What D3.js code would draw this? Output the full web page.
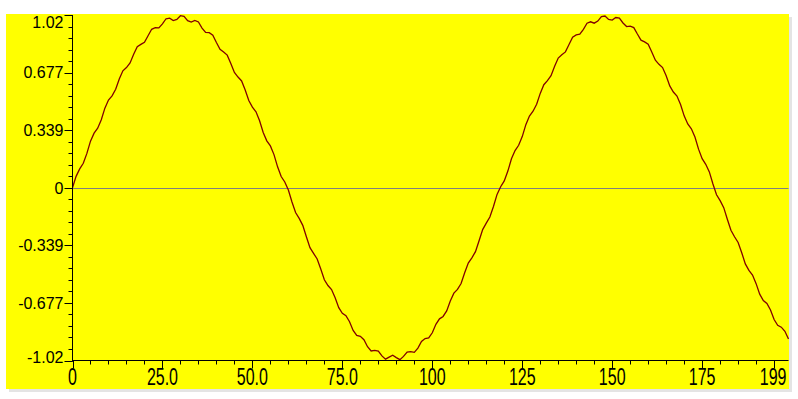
<!DOCTYPE html>
<html>
<head>
<meta charset="utf-8">
<script src="https://cdn.jsdelivr.net/npm/d3@7"></script>
<style>
  body { margin: 0; background: #ffffff; }
  text { font-family: "Liberation Sans", Arial, sans-serif; fill: #000; }
</style>
</head>
<body>
<div id="chart"></div>
<script>
// signal samples, one per index 0..199
var signalValues = [
  0.000, 0.067, 0.111, 0.144, 0.202, 0.274, 0.321, 0.350, 0.400, 0.468,
  0.516, 0.540, 0.579, 0.640, 0.688, 0.707, 0.734, 0.785, 0.829, 0.843,
  0.856, 0.894, 0.932, 0.941, 0.940, 0.964, 0.994, 0.997, 0.983, 0.990,
  1.012, 1.008, 0.983, 0.974, 0.984, 0.975, 0.939, 0.914, 0.912, 0.897,
  0.854, 0.814, 0.799, 0.780, 0.731, 0.678, 0.651, 0.628, 0.575, 0.513,
  0.474, 0.447, 0.394, 0.325, 0.276, 0.246, 0.195, 0.123, 0.066, 0.034,
  -0.013, -0.084, -0.146, -0.180, -0.221, -0.288, -0.352, -0.386, -0.419, -0.478,
  -0.541, -0.575, -0.599, -0.647, -0.705, -0.738, -0.753, -0.788, -0.839, -0.868,
  -0.874, -0.894, -0.935, -0.960, -0.956, -0.961, -0.989, -1.008, -0.996, -0.985,
  -0.999, -1.011, -0.992, -0.966, -0.964, -0.968, -0.943, -0.904, -0.887, -0.883,
  -0.853, -0.803, -0.771, -0.757, -0.724, -0.666, -0.620, -0.598, -0.563, -0.500,
  -0.443, -0.412, -0.376, -0.312, -0.246, -0.208, -0.172, -0.110, -0.039, 0.006,
  0.040, 0.098, 0.170, 0.219, 0.250, 0.301, 0.371, 0.422, 0.450, 0.491,
  0.555, 0.606, 0.630, 0.659, 0.714, 0.763, 0.782, 0.799, 0.842, 0.885,
  0.899, 0.903, 0.932, 0.968, 0.976, 0.968, 0.980, 1.007, 1.010, 0.990,
  0.986, 1.001, 0.998, 0.969, 0.948, 0.951, 0.942, 0.904, 0.868, 0.858,
  0.844, 0.799, 0.750, 0.726, 0.707, 0.659, 0.599, 0.563, 0.539, 0.490,
  0.423, 0.375, 0.347, 0.298, 0.227, 0.171, 0.138, 0.093, 0.022, -0.041,
  -0.076, -0.117, -0.185, -0.250, -0.288, -0.322, -0.382, -0.448, -0.486, -0.513,
  -0.564, -0.626, -0.663, -0.681, -0.719, -0.775, -0.809, -0.820, -0.844, -0.890
];
var sampleIndex = signalValues.map(function (d, i) { return i; });

// axis ticks
var xTickValues = [0, 25, 50, 75, 100, 125, 150, 175, 199];
var xTickLabels = ["0", "25.0", "50.0", "75.0", "100", "125", "150", "175", "199"];
var yTickValues = [-1.016, -0.6773, -0.3387, 0, 0.3387, 0.6773, 1.016];
var yTickLabels = ["-1.02", "-0.677", "-0.339", "0", "0.339", "0.677", "1.02"];

var width = 798, height = 399;

var svg = d3.select("#chart")
  .append("svg")
  .attr("width", width)
  .attr("height", height);

// panel with light shadow on the right / bottom
svg.append("rect")
  .attr("x", 9).attr("y", 17)
  .attr("width", 783).attr("height", 375)
  .attr("fill", "#e4e4e4");
svg.append("rect")
  .attr("x", 6).attr("y", 14)
  .attr("width", 783).attr("height", 375)
  .attr("fill", "#ffff00");

var x = d3.scaleLinear()
  .domain([0, 199])
  .range([72.5, 788.5]);

var y = d3.scaleLinear()
  .domain([-1.016, 1.016])
  .range([360.5, 15]);

// zero line
svg.append("line")
  .attr("x1", x(0)).attr("x2", x(199))
  .attr("y1", Math.round(y(0)) + 0.5).attr("y2", Math.round(y(0)) + 0.5)
  .attr("stroke", "#808080")
  .attr("stroke-width", 1);

// the signal
var line = d3.line()
  .x(function (d, i) { return x(sampleIndex[i]); })
  .y(function (d) { return y(d); });

svg.append("path")
  .datum(signalValues)
  .attr("d", line)
  .attr("fill", "none")
  .attr("stroke", "#800000")
  .attr("stroke-width", 1.3);

// left axis
var yAxisX = 72.5;
svg.append("line")
  .attr("x1", yAxisX).attr("x2", yAxisX)
  .attr("y1", y(1.016)).attr("y2", y(-1.016) + 1)
  .attr("stroke", "#000");

var yMinor = d3.range(-15, 16).map(function (k) { return k * 0.3387 / 5; });
svg.selectAll(".yminor")
  .data(yMinor)
  .enter().append("line")
  .attr("x1", yAxisX - 4).attr("x2", yAxisX)
  .attr("y1", function (d) { return Math.round(y(d)) + 0.5; })
  .attr("y2", function (d) { return Math.round(y(d)) + 0.5; })
  .attr("stroke", "#000");

svg.selectAll(".ymajor")
  .data(yTickValues)
  .enter().append("line")
  .attr("x1", yAxisX - 8).attr("x2", yAxisX)
  .attr("y1", function (d) { return Math.round(y(d)) + 0.5; })
  .attr("y2", function (d) { return Math.round(y(d)) + 0.5; })
  .attr("stroke", "#000");

svg.selectAll(".ylabel")
  .data(yTickValues)
  .enter().append("text")
  .attr("x", yAxisX - 9)
  .attr("y", function (d) { return Math.min(Math.max(y(d), 22), 357); })
  .attr("dy", "0.36em")
  .attr("text-anchor", "end")
  .style("font-size", "16px")
  .text(function (d, i) { return yTickLabels[i]; });

// bottom axis
var xAxisY = 360.5;
svg.append("line")
  .attr("x1", yAxisX).attr("x2", x(199))
  .attr("y1", xAxisY).attr("y2", xAxisY)
  .attr("stroke", "#000");

var xMinor = d3.range(0, 200, 5);
svg.selectAll(".xminor")
  .data(xMinor)
  .enter().append("line")
  .attr("x1", function (d) { return Math.round(x(d)) + 0.5; })
  .attr("x2", function (d) { return Math.round(x(d)) + 0.5; })
  .attr("y1", xAxisY).attr("y2", function (d) { return xAxisY + (d % 25 === 0 || d === 195 ? 8 : 4); })
  .attr("stroke", "#000");

svg.selectAll(".xlabel")
  .data(xTickValues)
  .enter().append("text")
  .attr("transform", function (d, i) {
    var px = i === xTickValues.length - 1 ? x(d) - 2 : x(d);
    return "translate(" + px + ",385) scale(1,1.5)";
  })
  .attr("text-anchor", function (d, i) { return i === xTickValues.length - 1 ? "end" : "middle"; })
  .style("font-size", "16px")
  .text(function (d, i) { return xTickLabels[i]; });
</script>
</body>
</html>
